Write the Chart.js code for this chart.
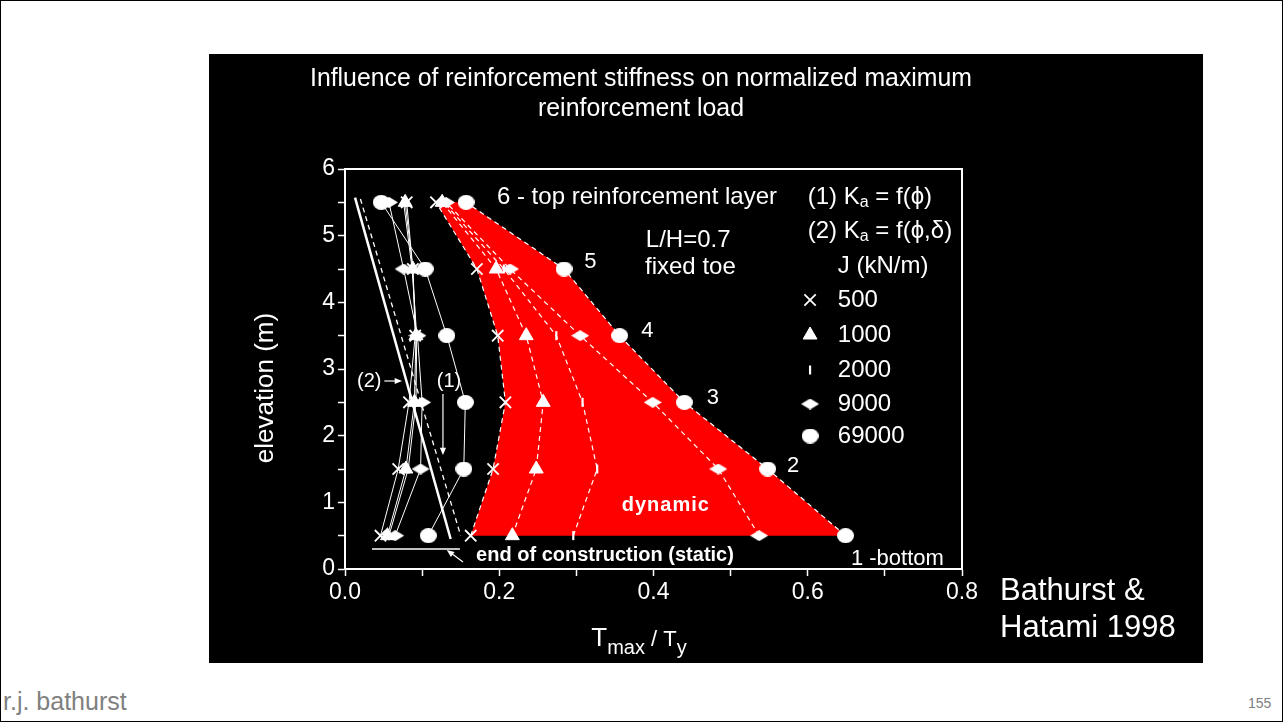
<!DOCTYPE html>
<html>
<head>
<meta charset="utf-8">
<script src="https://cdn.jsdelivr.net/npm/chart.js@4.4.1/dist/chart.umd.min.js"></script>
<style>
  html, body { margin: 0; padding: 0; background: #fff; }
  #slide { position: relative; width: 1283px; height: 722px; box-sizing: border-box; border: 1px solid #000; overflow: hidden; font-family: "Liberation Sans", Arial, sans-serif; }
  #panel { position: absolute; left: 208px; top: 53px; width: 994px; height: 609px; background: #000; }
  #panel canvas { position: absolute; left: 0; top: 0; }
  .credit { position: absolute; left: 791px; top: 517px; color: #fff; font-size: 31px; line-height: 37px; white-space: nowrap; }
  .author { position: absolute; left: 2px; top: 688px; color: #808080; font-size: 25px; line-height: 25px; }
  .page { position: absolute; left: 1247px; top: 695px; color: #808080; font-size: 14px; line-height: 14px; }
</style>
</head>
<body>
<div id="slide">
  <div id="panel">
    <canvas id="chart" width="994" height="609"></canvas>
    <div class="credit">Bathurst &amp;<br>Hatami 1998</div>
  </div>
  <div class="author">r.j. bathurst</div>
  <div class="page">155</div>
</div>
<script>
// ==================== DATA ====================
const elevations = [0.5, 1.5, 2.5, 3.5, 4.5, 5.5];
const jValues = ['500', '1000', '2000', '9000', '69000'];

// end of construction (static), Tmax/Ty per layer (bottom -> top)
const static500 = [0.046, 0.069, 0.083, 0.091, 0.088, 0.080];
const static1000 = [0.055, 0.079, 0.090, 0.092, 0.088, 0.078];
const static2000 = [0.057, 0.082, 0.092, 0.093, 0.087, 0.076];
const static9000 = [0.065, 0.098, 0.100, 0.094, 0.076, 0.057];
const static69000 = [0.108, 0.154, 0.156, 0.132, 0.104, 0.047];

// dynamic, Tmax/Ty per layer (bottom -> top)
const dynamic500 = [0.163, 0.192, 0.208, 0.198, 0.171, 0.118];
const dynamic1000 = [0.217, 0.248, 0.257, 0.235, 0.196, 0.126];
const dynamic2000 = [0.296, 0.327, 0.308, 0.274, 0.206, 0.128];
const dynamic9000 = [0.537, 0.484, 0.399, 0.305, 0.214, 0.131];
const dynamic69000 = [0.649, 0.548, 0.440, 0.356, 0.284, 0.157];

// Ka theory lines and the static base line
const ka1X = [0.020, 0.150];
const ka1Y = [5.55, 0.50];
const ka2X = [0.013, 0.137];
const ka2Y = [5.57, 0.45];
const staticBaseX = [0.035, 0.149];
const staticBaseY = [0.30, 0.30];

const xTickLabels = ['0.0', '0.2', '0.4', '0.6', '0.8'];
const yTickLabels = ['0', '1', '2', '3', '4', '5', '6'];

// ==================== MARKERS ====================
const FONT = '"Liberation Sans", Arial, sans-serif';
const WHITE = '#ffffff';

function ellipseMark(w, h) {
  const c = document.createElement('canvas');
  c.width = w; c.height = h;
  const g = c.getContext('2d');
  g.fillStyle = WHITE;
  g.beginPath();
  g.ellipse(w / 2, h / 2, w / 2, h / 2, 0, 0, Math.PI * 2);
  g.fill();
  return c;
}
function diamondMark(w, h) {
  const c = document.createElement('canvas');
  c.width = w; c.height = h;
  const g = c.getContext('2d');
  g.fillStyle = WHITE;
  g.beginPath();
  g.moveTo(w / 2, 0); g.lineTo(w, h / 2); g.lineTo(w / 2, h); g.lineTo(0, h / 2);
  g.closePath();
  g.fill();
  return c;
}

const markers = {
  '500': { pointStyle: 'crossRot', radius: 8, rotation: 0, borderWidth: 1.8 },
  '1000': { pointStyle: 'triangle', radius: 8, rotation: 0, borderWidth: 1 },
  '2000': { pointStyle: 'line', radius: 4.5, rotation: 90, borderWidth: 2.2 },
  '9000': { pointStyle: diamondMark(18, 11), radius: 8, rotation: 0, borderWidth: 1 },
  '69000': { pointStyle: ellipseMark(17, 15), radius: 8, rotation: 0, borderWidth: 1 },
};

const toPoints = (xs, ys) => xs.map((x, i) => ({ x, y: ys[i] }));

function profile(xs, j, dashed) {
  const m = markers[j];
  return {
    data: toPoints(xs, elevations),
    showLine: true,
    borderColor: WHITE,
    borderWidth: dashed ? 1.2 : 1,
    borderDash: dashed ? [5, 4] : [],
    pointStyle: m.pointStyle,
    pointRadius: m.radius,
    pointRotation: m.rotation,
    pointBorderWidth: m.borderWidth,
    pointBorderColor: WHITE,
    pointBackgroundColor: WHITE,
    order: 1,
  };
}

function plainLine(xs, ys, width, dash) {
  return {
    data: toPoints(xs, ys),
    showLine: true,
    borderColor: WHITE,
    borderWidth: width,
    borderDash: dash,
    pointRadius: 0,
    order: 2,
  };
}

// red zone between the J=500 and J=69000 dynamic profiles
const dynamicZone = toPoints(dynamic500, elevations)
  .concat(toPoints(dynamic69000, elevations).reverse());

// ==================== ANNOTATIONS ====================
function font(size, weight) {
  return (weight ? weight + ' ' : '') + size + 'px ' + FONT;
}
function richText(ctx, parts, x, y, align) {
  let w = 0;
  parts.forEach((p) => { ctx.font = font(p.size, p.weight); w += ctx.measureText(p.text).width; });
  let cx = align === 'center' ? x - w / 2 : x;
  ctx.textAlign = 'left';
  parts.forEach((p) => {
    ctx.font = font(p.size, p.weight);
    ctx.fillText(p.text, cx, y + (p.dy || 0));
    cx += ctx.measureText(p.text).width;
  });
}
function arrow(ctx, x1, y1, x2, y2, head) {
  const a = Math.atan2(y2 - y1, x2 - x1);
  ctx.beginPath();
  ctx.moveTo(x1, y1);
  ctx.lineTo(x2 - Math.cos(a) * head * 0.8, y2 - Math.sin(a) * head * 0.8);
  ctx.stroke();
  ctx.beginPath();
  ctx.moveTo(x2, y2);
  ctx.lineTo(x2 - head * Math.cos(a - 0.4), y2 - head * Math.sin(a - 0.4));
  ctx.lineTo(x2 - head * Math.cos(a + 0.4), y2 - head * Math.sin(a + 0.4));
  ctx.closePath();
  ctx.fill();
}

const textNotes = [
  { text: '6 - top reinforcement layer', x: 0.197, y: 5.58, size: 24, align: 'left' },
  { text: 'L/H=0.7', x: 0.390, y: 4.935, size: 24, align: 'left' },
  { text: 'fixed toe', x: 0.389, y: 4.53, size: 24, align: 'left' },
  { text: '5', x: 0.318, y: 4.605, size: 22, align: 'center' },
  { text: '4', x: 0.392, y: 3.57, size: 22, align: 'center' },
  { text: '3', x: 0.477, y: 2.565, size: 22, align: 'center' },
  { text: '2', x: 0.581, y: 1.545, size: 22, align: 'center' },
  { text: '1 -bottom', x: 0.656, y: 0.15, size: 22, align: 'left' },
  { text: 'dynamic', x: 0.416, y: 0.96, size: 20, weight: 'bold', align: 'center', spacing: '1px' },
  { text: 'end of construction (static)', x: 0.170, y: 0.21, size: 20, weight: 'bold', align: 'left' },
  { text: '(2)', x: 0.0156, y: 2.82, size: 20, align: 'left' },
  { text: '(1)', x: 0.119, y: 2.82, size: 20, align: 'left' },
];
const arrowNotes = [
  { x1: 0.051, y1: 2.82, x2: 0.074, y2: 2.82 },
  { x1: 0.127, y1: 2.625, x2: 0.127, y2: 1.71 },
  { x1: 0.153, y1: 0.105, x2: 0.132, y2: 0.285 },
];
const legendMarkerX = 0.603;
const legendLabelX = 0.639;
const legendRowY = [4.035, 3.51, 2.985, 2.475, 1.995];

const notesPlugin = {
  id: 'notes',
  afterDraw(chart) {
    const { ctx, scales: { x, y } } = chart;
    const px = (v) => x.getPixelForValue(v);
    const py = (v) => y.getPixelForValue(v);
    ctx.save();
    ctx.fillStyle = WHITE;
    ctx.strokeStyle = WHITE;

    // title
    ctx.textAlign = 'center';
    ctx.textBaseline = 'alphabetic';
    ctx.font = font(25);
    ctx.fillText('Influence of reinforcement stiffness on normalized maximum', 432, 32, 662);
    ctx.fillText('reinforcement load', 432, 62, 206);

    // axis titles
    ctx.save();
    ctx.translate(57, 334);
    ctx.rotate(-Math.PI / 2);
    ctx.textBaseline = 'middle';
    ctx.font = font(26);
    ctx.fillText('elevation (m)', 0, 0);
    ctx.restore();
    richText(ctx, [
      { text: 'T', size: 26 },
      { text: 'max', size: 20, dy: 8 },
      { text: ' / T', size: 22 },
      { text: 'y', size: 20, dy: 8 },
    ], 430, 592, 'center');

    // notes
    ctx.textBaseline = 'middle';
    textNotes.forEach((n) => {
      ctx.font = font(n.size, n.weight);
      ctx.letterSpacing = n.spacing || '0px';
      ctx.textAlign = n.align;
      ctx.fillText(n.text, px(n.x), py(n.y));
    });
    ctx.letterSpacing = '0px';
    ctx.lineWidth = 1.2;
    arrowNotes.forEach((a) => arrow(ctx, px(a.x1), py(a.y1), px(a.x2), py(a.y2), 8));

    // legend
    richText(ctx, [
      { text: '(1) K', size: 24 },
      { text: 'a', size: 16, dy: 6 },
      { text: ' = f(\u03d5)', size: 24 },
    ], px(0.600), py(5.58), 'left');
    richText(ctx, [
      { text: '(2) K', size: 24 },
      { text: 'a', size: 16, dy: 6 },
      { text: ' = f(\u03d5,\u03b4)', size: 24 },
    ], px(0.600), py(5.07), 'left');
    ctx.font = font(24);
    ctx.textAlign = 'left';
    ctx.fillText('J (kN/m)', px(legendLabelX), py(4.545));
    jValues.forEach((j, i) => {
      const m = markers[j];
      ctx.lineWidth = m.borderWidth;
      Chart.helpers.drawPoint(ctx, m, px(legendMarkerX), py(legendRowY[i]));
      ctx.font = font(24);
      ctx.textAlign = 'left';
      ctx.fillText(j, px(legendLabelX), py(legendRowY[i]));
    });
    ctx.restore();
  },
};

// ==================== CHART ====================
const frameAxis = (position) => ({
  type: 'linear',
  position,
  display: true,
  ticks: { display: false },
  grid: { display: false },
  border: { display: true, color: WHITE, width: 2 },
  afterFit: (s) => { if (position === 'top') s.height = 0; else s.width = 0; },
});

new Chart(document.getElementById('chart'), {
  type: 'scatter',
  data: {
    datasets: [
      profile(dynamic500, '500', true),
      profile(dynamic1000, '1000', true),
      profile(dynamic2000, '2000', true),
      profile(dynamic9000, '9000', true),
      profile(dynamic69000, '69000', true),
      profile(static500, '500', false),
      profile(static1000, '1000', false),
      profile(static2000, '2000', false),
      profile(static9000, '9000', false),
      profile(static69000, '69000', false),
      plainLine(ka2X, ka2Y, 2.5, []),
      plainLine(ka1X, ka1Y, 1.3, [5, 4]),
      plainLine(staticBaseX, staticBaseY, 1.5, []),
      {
        data: dynamicZone,
        showLine: true,
        fill: 'shape',
        backgroundColor: '#ff0000',
        borderColor: 'rgba(0,0,0,0)',
        borderWidth: 0,
        pointRadius: 0,
        order: 10,
      },
    ],
  },
  options: {
    responsive: false,
    animation: false,
    layout: { padding: { left: 76, right: 241, top: 115, bottom: 54 } },
    plugins: { legend: { display: false }, tooltip: { enabled: false }, title: { display: false } },
    scales: {
      x: {
        type: 'linear',
        position: 'bottom',
        min: 0,
        max: 0.8,
        afterFit: (s) => { s.height = 40; },
        ticks: {
          stepSize: 0.1,
          autoSkip: false,
          maxRotation: 0,
          padding: 3,
          color: WHITE,
          font: { family: FONT, size: 23 },
          callback: (v) => {
            const k = Math.round(v * 10);
            return k % 2 === 0 ? xTickLabels[k / 2] : '';
          },
        },
        grid: { display: true, drawOnChartArea: false, drawTicks: true, tickLength: 7, tickColor: WHITE, tickWidth: 1.5 },
        border: { display: true, color: WHITE, width: 2 },
      },
      y: {
        type: 'linear',
        position: 'left',
        min: 0,
        max: 6,
        afterFit: (s) => { s.width = 60; },
        ticks: {
          stepSize: 0.5,
          autoSkip: false,
          padding: 3,
          color: WHITE,
          font: { family: FONT, size: 23 },
          callback: (v) => (Number.isInteger(v) ? yTickLabels[v] : ''),
        },
        grid: { display: true, drawOnChartArea: false, drawTicks: true, tickLength: 7, tickColor: WHITE, tickWidth: 1.5 },
        border: { display: true, color: WHITE, width: 2 },
      },
      xTop: frameAxis('top'),
      yRight: frameAxis('right'),
    },
  },
  plugins: [notesPlugin],
});
</script>
</body>
</html>
